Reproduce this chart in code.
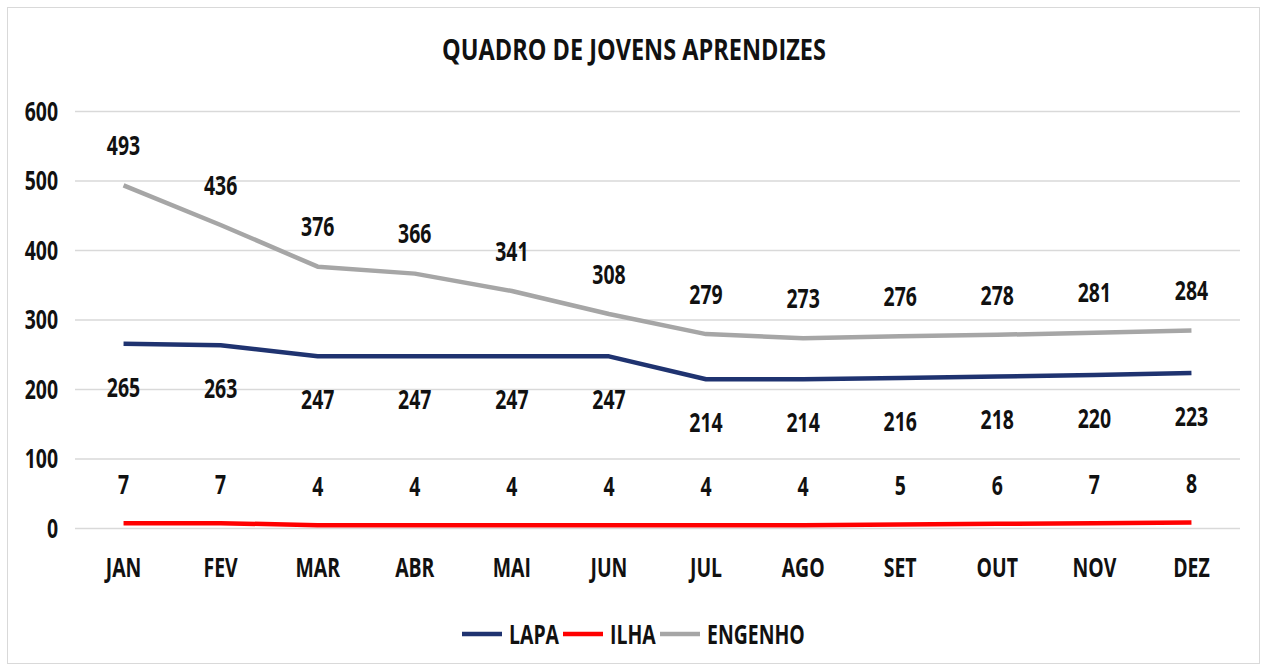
<!DOCTYPE html>
<html>
<head>
<meta charset="utf-8">
<script src="https://cdn.jsdelivr.net/npm/d3@7"></script>
<style>
  body { margin: 0; background: #fff; }
  text { font-family: 'Open Sans', 'DejaVu Sans Condensed', sans-serif; font-weight: bold; fill: #111; }
</style>
</head>
<body>
<div id="chart"></div>
<script>
let months = ['JAN', 'FEV', 'MAR', 'ABR', 'MAI', 'JUN', 'JUL', 'AGO', 'SET', 'OUT', 'NOV', 'DEZ']
let lapa = [265, 263, 247, 247, 247, 247, 214, 214, 216, 218, 220, 223]
let ilha = [7, 7, 4, 4, 4, 4, 4, 4, 5, 6, 7, 8]
let engenho = [493, 436, 376, 366, 341, 308, 279, 273, 276, 278, 281, 284]
let yTicks = [0, 100, 200, 300, 400, 500, 600]

let series = [
  { name: 'LAPA', values: lapa, color: '#1f3370', labelDy: 43 },
  { name: 'ILHA', values: ilha, color: '#ff0000', labelDy: -39 },
  { name: 'ENGENHO', values: engenho, color: '#a6a6a6', labelDy: -40 }
]

let width = 1266
let height = 670
let margin = { top: 111, left: 75, right: 26, bottom: 142 }

let svg = d3
  .select('#chart')
  .append('svg')
  .attr('width', width)
  .attr('height', height)

// the original uses a narrow bold face, so squeeze the text horizontally
function addText(parent, tx, ty, str, size, anchor, sx = 0.72) {
  parent
    .append('g')
    .attr('transform', `translate(${tx},${ty}) scale(${sx},1)`)
    .append('text')
    .attr('dy', '0.36em')
    .attr('text-anchor', anchor)
    .attr('font-size', size)
    .text(str)
}

// outer frame
svg
  .append('rect')
  .attr('x', 7.5)
  .attr('y', 7.5)
  .attr('width', 1252)
  .attr('height', 656)
  .attr('fill', '#fff')
  .attr('stroke', '#d9d9d9')

let x = d3
  .scaleBand()
  .domain(months)
  .range([margin.left, width - margin.right])

let y = d3
  .scaleLinear()
  .domain([0, 600])
  .range([height - margin.bottom, margin.top])

let cx = m => x(m) + x.bandwidth() / 2

// gridlines
svg
  .selectAll('.grid')
  .data(yTicks)
  .enter()
  .append('line')
  .attr('class', 'grid')
  .attr('x1', margin.left)
  .attr('x2', width - margin.right)
  .attr('y1', d => y(d) + 0.5)
  .attr('y2', d => y(d) + 0.5)
  .attr('stroke', '#d9d9d9')
  .attr('stroke-width', 1.5)

// y tick labels
yTicks.forEach(t => addText(svg, 58, y(t), t, 27, 'end'))

// x labels
months.forEach(m => addText(svg, cx(m), 567, m, 27, 'middle'))

let line = d3
  .line()
  .x((d, i) => cx(months[i]))
  .y(d => y(d))

series.forEach(s => {
  svg
    .append('path')
    .attr('d', line(s.values))
    .attr('fill', 'none')
    .attr('stroke', s.color)
    .attr('stroke-width', 4.5)
    .attr('stroke-linejoin', 'round')

  s.values.forEach((v, i) => addText(svg, cx(months[i]), y(v) + s.labelDy, v, 27, 'middle'))
})

// title
addText(svg, 634, 50, 'QUADRO DE JOVENS APRENDIZES', 28, 'middle', 0.84)

// legend
let legendX = [462, 563, 660]

series.forEach((s, i) => {
  let g = svg.append('g').attr('transform', `translate(${legendX[i]},634)`)
  g.append('line')
    .attr('x1', 0)
    .attr('x2', 40)
    .attr('stroke', s.color)
    .attr('stroke-width', 4.5)
  addText(g, 47, 0, s.name, 27, 'start')
})
</script>
</body>
</html>
